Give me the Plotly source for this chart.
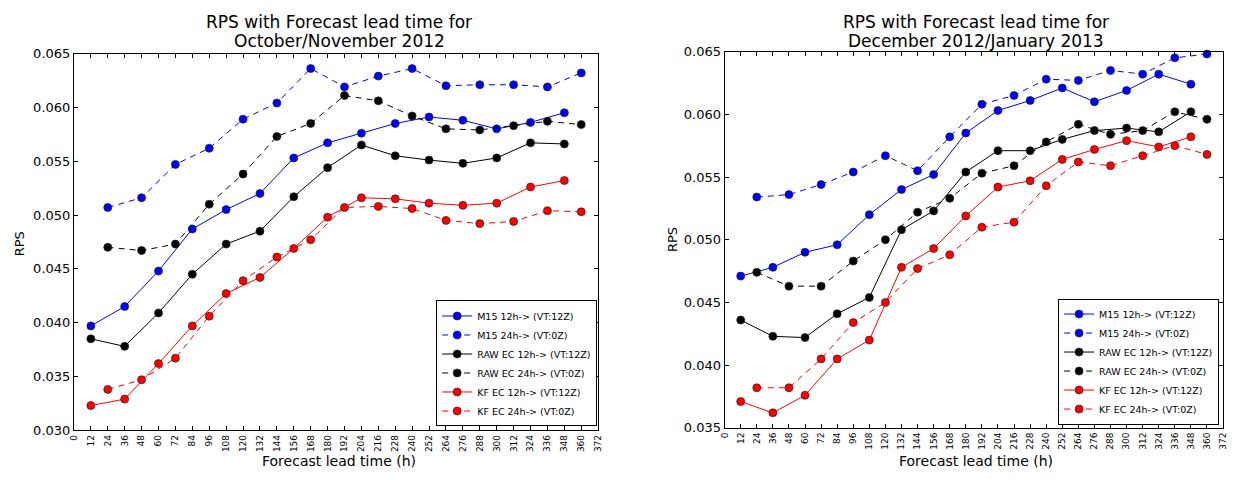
import plotly.graph_objects as go

# Forecast lead times (h): 12h-offset runs and 24h-offset runs
lead_12 = [12, 36, 60, 84, 108, 132, 156, 180, 204, 228, 252, 276, 300, 324, 348]
lead_24 = [24, 48, 72, 96, 120, 144, 168, 192, 216, 240, 264, 288, 312, 336, 360]
x_ticks = list(range(0, 373, 12))

# October/November 2012
on_m15_12 = [0.0397, 0.0415, 0.0448, 0.0487, 0.0505, 0.0520, 0.0553, 0.0567, 0.0576, 0.0585, 0.0591, 0.0588, 0.0580, 0.0586, 0.0595]
on_m15_24 = [0.0507, 0.0516, 0.0547, 0.0562, 0.0589, 0.0604, 0.0636, 0.0619, 0.0629, 0.0636, 0.0620, 0.0621, 0.0621, 0.0619, 0.0632]
on_raw_12 = [0.0385, 0.0378, 0.0409, 0.0445, 0.0473, 0.0485, 0.0517, 0.0544, 0.0565, 0.0555, 0.0551, 0.0548, 0.0553, 0.0567, 0.0566]
on_raw_24 = [0.0470, 0.0467, 0.0473, 0.0510, 0.0538, 0.0573, 0.0585, 0.0611, 0.0606, 0.0592, 0.0580, 0.0579, 0.0583, 0.0587, 0.0584]
on_kf_12 = [0.0323, 0.0329, 0.0362, 0.0397, 0.0427, 0.0442, 0.0469, 0.0498, 0.0516, 0.0515, 0.0511, 0.0509, 0.0511, 0.0526, 0.0532]
on_kf_24 = [0.0338, 0.0347, 0.0367, 0.0406, 0.0439, 0.0461, 0.0477, 0.0507, 0.0508, 0.0506, 0.0495, 0.0492, 0.0494, 0.0504, 0.0503]

# December 2012/January 2013
dj_m15_12 = [0.0471, 0.0478, 0.0490, 0.0496, 0.0520, 0.0540, 0.0552, 0.0585, 0.0603, 0.0611, 0.0621, 0.0610, 0.0619, 0.0632, 0.0624]
dj_m15_24 = [0.0534, 0.0536, 0.0544, 0.0554, 0.0567, 0.0555, 0.0582, 0.0608, 0.0615, 0.0628, 0.0627, 0.0635, 0.0632, 0.0645, 0.0648]
dj_raw_12 = [0.0436, 0.0423, 0.0422, 0.0441, 0.0454, 0.0508, 0.0523, 0.0554, 0.0571, 0.0571, 0.0580, 0.0587, 0.0589, 0.0586, 0.0602]
dj_raw_24 = [0.0474, 0.0463, 0.0463, 0.0483, 0.0500, 0.0522, 0.0533, 0.0553, 0.0559, 0.0578, 0.0592, 0.0584, 0.0587, 0.0602, 0.0596]
dj_kf_12 = [0.0371, 0.0362, 0.0376, 0.0405, 0.0420, 0.0478, 0.0493, 0.0519, 0.0542, 0.0547, 0.0564, 0.0572, 0.0579, 0.0574, 0.0582]
dj_kf_24 = [0.0382, 0.0382, 0.0405, 0.0434, 0.0450, 0.0477, 0.0488, 0.0510, 0.0514, 0.0543, 0.0562, 0.0559, 0.0567, 0.0575, 0.0568]

series_names = [
    "M15 12h-> (VT:12Z)", "M15 24h-> (VT:0Z)",
    "RAW EC 12h-> (VT:12Z)", "RAW EC 24h-> (VT:0Z)",
    "KF EC 12h-> (VT:12Z)", "KF EC 24h-> (VT:0Z)",
]
series_colors = ["#0000ff", "#0000ff", "#000000", "#000000", "#ff0000", "#ff0000"]
series_dash = ["solid", "6px,5px", "solid", "6px,5px", "solid", "6px,5px"]

panels = [
    ("x", "y", "legend", [on_m15_12, on_m15_24, on_raw_12, on_raw_24, on_kf_12, on_kf_24]),
    ("x2", "y2", "legend2", [dj_m15_12, dj_m15_24, dj_raw_12, dj_raw_24, dj_kf_12, dj_kf_24]),
]

FONT = "DejaVu Sans"
W, H = 1234, 480

fig = go.Figure()
for xa, ya, leg, values in panels:
    for i, vals in enumerate(values):
        lead = lead_12 if i % 2 == 0 else lead_24
        fig.add_trace(go.Scatter(
            x=lead, y=vals, xaxis=xa, yaxis=ya, legend=leg,
            name=series_names[i], mode="lines+markers",
            line=dict(color=series_colors[i], width=1, dash=series_dash[i]),
            marker=dict(size=8, color=series_colors[i], line=dict(color="#222222", width=0.7)),
            cliponaxis=False,
        ))


def px_x(p):
    return p / W


def px_y(p):
    return 1 - p / H


axis_common = dict(
    showgrid=False, zeroline=False, showline=True, linecolor="black", linewidth=1,
    mirror="ticks", ticks="inside", ticklen=4, tickwidth=1, tickcolor="black",
)

legend_common = dict(
    xanchor="right", yanchor="bottom",
    bgcolor="white", bordercolor="black", borderwidth=1,
    font=dict(size=9.5, family=FONT), itemwidth=30, tracegroupgap=0,
)

fig.update_layout(
    width=W, height=H, autosize=False,
    margin=dict(l=0, r=0, t=0, b=0),
    paper_bgcolor="white", plot_bgcolor="white",
    font=dict(family=FONT, color="black"),
    xaxis=dict(domain=[px_x(69.5), px_x(598)], anchor="y", range=[0, 372],
               tickvals=x_ticks, tickangle=-90, tickfont=dict(size=9), **axis_common),
    yaxis=dict(domain=[px_y(437), px_y(48)], anchor="x", range=[0.030, 0.065],
               dtick=0.005, tick0=0.030, tickformat=".3f", tickfont=dict(size=13), **axis_common),
    xaxis2=dict(domain=[px_x(725.5), px_x(1228)], anchor="y2", range=[0, 372],
                tickvals=x_ticks, tickangle=-90, tickfont=dict(size=9), **axis_common),
    yaxis2=dict(domain=[px_y(434.5), px_y(46)], anchor="x2", range=[0.035, 0.065],
                dtick=0.005, tick0=0.035, tickformat=".3f", tickfont=dict(size=13), **axis_common),
    legend=dict(x=px_x(597), y=px_y(433), **legend_common),
    legend2=dict(x=px_x(1224), y=px_y(431), **legend_common),
)

titles = [
    (337, "RPS with Forecast lead time for", "October/November 2012"),
    (979, "RPS with Forecast lead time for", "December 2012/January 2013"),
]
for cx, line1, line2 in titles:
    for cy, text in [(16, line1), (35, line2)]:
        fig.add_annotation(x=px_x(cx), y=px_y(cy), xref="paper", yref="paper",
                           text=text, showarrow=False, xanchor="center", yanchor="middle",
                           font=dict(size=17, family=FONT))
    fig.add_annotation(x=px_x(cx), y=px_y(469), xref="paper", yref="paper",
                       text="Forecast lead time (h)", showarrow=False,
                       xanchor="center", yanchor="middle", font=dict(size=14, family=FONT))

for cx, cy in [(14, 244), (673, 240)]:
    fig.add_annotation(x=px_x(cx), y=px_y(cy), xref="paper", yref="paper",
                       text="RPS", showarrow=False, textangle=-90,
                       xanchor="center", yanchor="middle", font=dict(size=13, family=FONT))

fig.write_html("out.html")
